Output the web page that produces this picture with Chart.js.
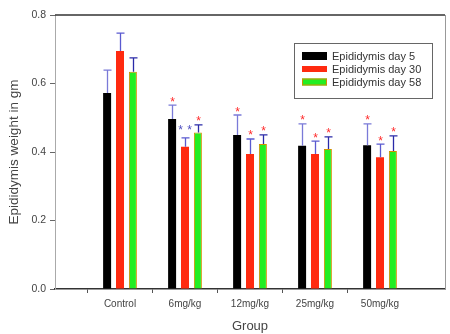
<!DOCTYPE html>
<html>
<head>
<meta charset="utf-8">
<script src="https://cdn.jsdelivr.net/npm/chart.js@4/dist/chart.umd.min.js"></script>
<style>
html,body{margin:0;padding:0;background:#fff;}
#wrap{width:450px;height:334px;position:relative;}
</style>
</head>
<body>
<div id="wrap"><canvas id="c" width="450" height="334"></canvas></div>
<script>
// ---- data ----
const categories = ['Control', '6mg/kg', '12mg/kg', '25mg/kg', '50mg/kg'];
const seriesNames = ['Epididymis day 5', 'Epididymis day 30', 'Epididymis day 58'];
const day5 = [0.572, 0.496, 0.450, 0.418, 0.420];
const day30 = [0.695, 0.415, 0.394, 0.394, 0.385];
const day58 = [0.634, 0.457, 0.423, 0.409, 0.403];
const err5 = [0.067, 0.041, 0.058, 0.064, 0.062];
const err30 = [0.052, 0.026, 0.044, 0.038, 0.038];
const err58 = [0.041, 0.022, 0.027, 0.035, 0.044];
const sig5 = ['', '*', '*', '*', '*'];
const sig30 = ['', '**', '*', '*', '*'];
const sig58 = ['', '*', '*', '*', '*'];
const yTicks = [0, 0.2, 0.4, 0.6, 0.8];

const pad = a => [null, ...a, null];
const labels = ['', ...categories, ''];
const FONT = "'Liberation Sans', Arial, sans-serif";

const errs = [err5, err30, err58];
const sigs = [sig5, sig30, sig58];
const errColors = ['#7a7ad8', '#5a5ad0', '#2a2aa8'];

const extras = {
  id: 'extras',
  afterDatasetsDraw(chart) {
    const ctx = chart.ctx;
    const y = chart.scales.y;
    const ca = chart.chartArea;
    ctx.save();
    // frame top + right
    ctx.strokeStyle = '#333';
    ctx.lineWidth = 1.5;
    ctx.beginPath();
    ctx.moveTo(ca.left, ca.top); ctx.lineTo(ca.right, ca.top);
    ctx.stroke();
    ctx.strokeStyle = '#999';
    ctx.lineWidth = 1;
    ctx.beginPath();
    ctx.moveTo(ca.right + 0.5, ca.top); ctx.lineTo(ca.right + 0.5, ca.bottom);
    ctx.stroke();
    // error bars and stars
    chart.data.datasets.forEach((ds, di) => {
      const meta = chart.getDatasetMeta(di);
      meta.data.forEach((bar, i) => {
        const v = ds.data[i];
        if (v === null || v === undefined) return;
        const k = i - 1;
        const top = y.getPixelForValue(v + errs[di][k]);
        const by = y.getPixelForValue(v);
        const x = Math.round(bar.x) + 0.5;
        ctx.strokeStyle = errColors[di];
        ctx.lineWidth = 1.3;
        ctx.beginPath();
        ctx.moveTo(x, by); ctx.lineTo(x, top);
        ctx.moveTo(x - 4, top); ctx.lineTo(x + 4, top);
        ctx.stroke();
        const s = sigs[di][k];
        ctx.font = '12px ' + FONT;
        ctx.textAlign = 'center';
        ctx.textBaseline = 'alphabetic';
        if (s === '*') {
          ctx.fillStyle = '#ff2a2a';
          ctx.fillText('*', x, top + 0.5);
        } else if (s === '**') {
          ctx.fillStyle = '#5050c0';
          ctx.fillText('*', x - 5, top - 4);
          ctx.fillText('*', x + 4, top - 4);
        }
      });
    });
    // legend
    const lx = 294, ly = 43, lw = 138, lh = 55;
    ctx.strokeStyle = '#666';
    ctx.lineWidth = 1;
    ctx.strokeRect(lx + 0.5, ly + 0.5, lw, lh);
    const sw = [
      {c: '#000000', b: '#000000', h: 8},
      {c: '#ff2a10', b: '#ff2a10', h: 6},
      {c: '#22ee22', b: '#d09000', h: 7}
    ];
    ctx.font = '11px ' + FONT;
    ctx.textAlign = 'left';
    ctx.textBaseline = 'middle';
    seriesNames.forEach((n, i) => {
      const cy = 56 + i * 13;
      ctx.fillStyle = sw[i].c;
      ctx.fillRect(302, cy - sw[i].h / 2, 25, sw[i].h);
      if (i === 2) {
        ctx.strokeStyle = sw[i].b;
        ctx.strokeRect(302.5, cy - sw[i].h / 2 + 0.5, 24, sw[i].h - 1);
      }
      ctx.fillStyle = '#333';
      ctx.fillText(n, 332, cy + 0.5);
    });
    ctx.restore();
  }
};

new Chart(document.getElementById('c'), {
  type: 'bar',
  data: {
    labels: labels,
    datasets: [
      {label: seriesNames[0], data: pad(day5), backgroundColor: '#000000', borderWidth: 0},
      {label: seriesNames[1], data: pad(day30), backgroundColor: '#ff2a10', borderWidth: 0},
      {label: seriesNames[2], data: pad(day58), backgroundColor: '#22ee22', borderColor: '#d09000', borderWidth: 1}
    ]
  },
  options: {
    responsive: false,
    animation: false,
    devicePixelRatio: 1,
    layout: {padding: {top: 15, right: 2, left: 0, bottom: 0}},
    categoryPercentage: 0.595,
    barPercentage: 0.62,
    plugins: {legend: {display: false}, tooltip: {enabled: false}},
    scales: {
      x: {
        offset: false,
        afterFit: s => { s.height = 45; },
        border: {color: '#333', width: 1.5},
        grid: {
          drawOnChartArea: false, drawTicks: true, tickLength: 4,
          tickColor: c => (c.index === 0 || c.index === labels.length - 1) ? 'rgba(0,0,0,0)' : '#555'
        },
        ticks: {color: '#444', font: {family: FONT, size: 10}, padding: 5, maxRotation: 0, autoSkip: false},
        title: {display: true, text: 'Group', color: '#444', font: {family: FONT, size: 13}, padding: {top: 0, bottom: 0}}
      },
      y: {
        min: 0, max: 0.8,
        afterFit: s => { s.width = 55; },
        afterBuildTicks: s => { s.ticks = yTicks.map(v => ({value: v})); },
        border: {color: '#aaa', width: 1},
        grid: {drawOnChartArea: false, drawTicks: true, tickLength: 5, tickColor: '#666'},
        ticks: {color: '#444', font: {family: FONT, size: 10.5}, padding: 4, callback: v => Number(v).toFixed(1)},
        title: {display: true, text: 'Epididymis weight in gm', color: '#444', font: {family: FONT, size: 13.5}, padding: {top: 6, bottom: 0}}
      }
    }
  },
  plugins: [extras]
});
</script>
</body>
</html>
